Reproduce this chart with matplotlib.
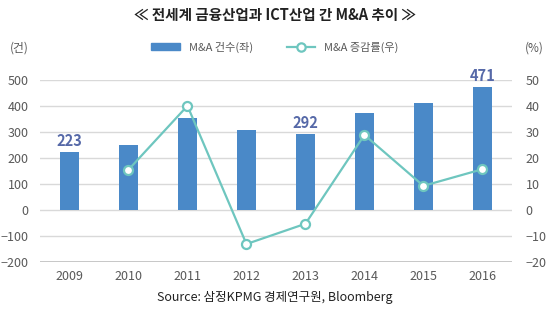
import matplotlib
matplotlib.use("Agg")
import matplotlib.pyplot as plt
from matplotlib.lines import Line2D
from matplotlib.patches import Patch

plt.rcParams['font.family'] = ['Noto Sans CJK KR', 'DejaVu Sans']

years = ['2009', '2010', '2011', '2012', '2013', '2014', '2015', '2016']
deals = [223, 250, 353, 308, 292, 372, 412, 471]
growth = [None, 15.4, 40.0, -13.2, -5.4, 28.8, 9.2, 15.6]
labeled = {'2009': 223, '2013': 292, '2016': 471}

bar_color = '#4a89c8'
line_color = '#6ec6bf'
label_color = '#5669a8'
tick_color = '#595959'
grid_color = '#d9d9d9'

fig = plt.figure(figsize=(5.5, 3.3), dpi=100)
ax = fig.add_axes([0.0727, 0.207, 0.858, 0.551])
ax2 = ax.twinx()

x = list(range(len(years)))
ax.bar(x, deals, width=0.33, color=bar_color, zorder=2)
for i, y in enumerate(years):
    if y in labeled:
        ax.text(i, labeled[y] + 12, str(labeled[y]), ha='center', va='bottom',
                fontsize=10.5, color=label_color, fontweight='bold')

ax.set_xlim(-0.5, len(years) - 0.5)
ax.set_ylim(-200, 500)
ax.set_yticks(range(-200, 501, 100))
ax.set_xticks(x)
ax.set_xticklabels(years)
ax.yaxis.grid(True, color=grid_color, linewidth=1.0, zorder=0)
ax.set_axisbelow(True)
for s in ax.spines.values():
    s.set_visible(False)
for s in ax2.spines.values():
    s.set_visible(False)
ax.axhline(-200, color='#bfbfbf', linewidth=1.2, zorder=1)
ax.tick_params(axis='both', length=0, labelsize=9, colors=tick_color)
ax.tick_params(axis='x', pad=6)
ax.tick_params(axis='y', pad=8)

gx = [i for i, g in enumerate(growth) if g is not None]
gy = [g for g in growth if g is not None]
ax2.plot(gx, gy, color=line_color, linewidth=1.6, marker='o', markersize=6.5,
         markerfacecolor='white', markeredgecolor=line_color, markeredgewidth=1.6, zorder=3)
ax2.set_ylim(-20, 50)
ax2.set_yticks(range(-20, 51, 10))
ax2.tick_params(axis='y', length=0, labelsize=9, colors=tick_color, pad=10)

fig.text(0.5, 0.955, '≪ 전세계 금융산업과 ICT산업 간 M&A 추이 ≫', ha='center', va='center',
         fontsize=10.5, fontweight='bold', color='#222222')
fig.text(0.036, 0.855, '(건)', ha='center', va='center', fontsize=8.5, color=tick_color)
fig.text(0.972, 0.855, '(%)', ha='center', va='center', fontsize=8.5, color=tick_color)

handles = [Patch(color=bar_color),
           Line2D([0], [0], color=line_color, linewidth=1.6, marker='o', markersize=6,
                  markerfacecolor='white', markeredgecolor=line_color, markeredgewidth=1.6)]
fig.legend(handles, ['M&A 건수(좌)', 'M&A 증감률(우)'], loc='center', ncol=2,
           bbox_to_anchor=(0.5, 0.857), frameon=False, fontsize=8, labelcolor=tick_color,
           handlelength=2.6, handleheight=0.6, columnspacing=3.0)

fig.text(0.5, 0.1, 'Source: 삼정KPMG 경제연구원, Bloomberg', ha='center', va='center',
         fontsize=9, color='#222222')

fig.savefig('out.png', dpi=100)
